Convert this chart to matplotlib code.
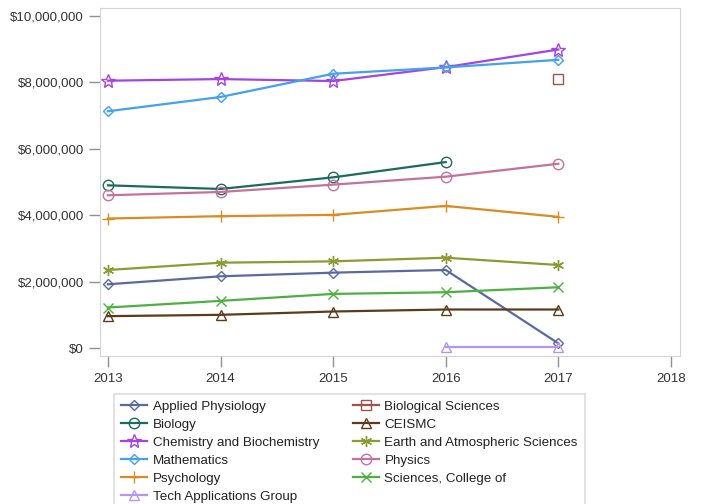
import matplotlib
matplotlib.use("Agg")
import matplotlib.pyplot as plt
from matplotlib.ticker import FuncFormatter

plt.rcParams['font.family'] = ['Liberation Sans', 'DejaVu Sans']

years = [2013, 2014, 2015, 2016, 2017]

# values in dollars, None = no data
applied_phys = [1.92e6, 2.16e6, 2.27e6, 2.35e6, 0.14e6]
biology = [4.90e6, 4.79e6, 5.14e6, 5.60e6, None]
chemistry = [8.05e6, 8.10e6, 8.04e6, 8.46e6, 8.99e6]
mathematics = [7.13e6, 7.56e6, 8.26e6, 8.45e6, 8.68e6]
psychology = [3.90e6, 3.97e6, 4.01e6, 4.28e6, 3.95e6]
tech_apps = [None, None, None, 0.04e6, 0.04e6]
bio_sciences = [None, None, None, None, 8.10e6]
ceismc = [0.96e6, 1.00e6, 1.10e6, 1.16e6, 1.16e6]
earth = [2.35e6, 2.57e6, 2.61e6, 2.72e6, 2.50e6]
physics = [4.60e6, 4.70e6, 4.92e6, 5.16e6, 5.55e6]
sciences = [1.22e6, 1.42e6, 1.63e6, 1.68e6, 1.83e6]

# name, values, color, marker  (order = legend order, column by column)
series = [
    ("Applied Physiology", applied_phys, "#5a6a9e", "D"),
    ("Biology", biology, "#1b6b5c", "o"),
    ("Chemistry and Biochemistry", chemistry, "#a544e0", "*"),
    ("Mathematics", mathematics, "#42a2ea", "D"),
    ("Psychology", psychology, "#d98c22", "+"),
    ("Tech Applications Group", tech_apps, "#b596ec", "^"),
    ("Biological Sciences", bio_sciences, "#a0524c", "s"),
    ("CEISMC", ceismc, "#5c3b1c", "^"),
    ("Earth and Atmospheric Sciences", earth, "#8c9a32", (6, 2, 0)),
    ("Physics", physics, "#c4729c", "o"),
    ("Sciences, College of", sciences, "#4cb042", "x"),
]
msize = {"D": 5.5, "o": 7.5, "*": 10.5, "+": 8, "^": 7.5, "s": 6.5, "x": 7.5}

fig = plt.figure(figsize=(7.04, 5.04), dpi=100)
ax = fig.add_axes([100/704, 1-356/504, 580/704, 348/504])

for name, vals, col, mk in series:
    xs = [y for y, v in zip(years, vals) if v is not None]
    ys = [v for v in vals if v is not None]
    ax.plot(xs, ys, color=col, lw=1.6, marker=mk, markersize=msize.get(mk, 8),
            markerfacecolor="none", markeredgecolor=col, markeredgewidth=1.0,
            label=name)

ax.set_xlim(2012.93, 2018.08)
ax.set_ylim(-0.24e6, 10.24e6)
ax.set_xticks([2013, 2014, 2015, 2016, 2017, 2018])
ax.set_yticks([0, 2e6, 4e6, 6e6, 8e6, 10e6])
ax.yaxis.set_major_formatter(FuncFormatter(lambda v, p: "${:,.0f}".format(v)))

for s in ax.spines.values():
    s.set_color("#d4d4d4")
ax.tick_params(colors="#909090", labelcolor="#333333", labelsize=9.5, length=8, width=1)
ax.tick_params(axis="x", pad=4)

leg = fig.legend(loc="upper left", bbox_to_anchor=(114/704, 1-394/504), ncol=2,
                 frameon=True, fancybox=False, fontsize=9.6, handlelength=2.0,
                 columnspacing=2.5, labelspacing=0.42, borderpad=0.5,
                 handletextpad=0.4, borderaxespad=0)
leg.get_frame().set_edgecolor("#d4d4d4")
leg.get_frame().set_linewidth(1.2)
for t in leg.get_texts():
    t.set_color("#222222")

fig.savefig("out.png", dpi=100)
